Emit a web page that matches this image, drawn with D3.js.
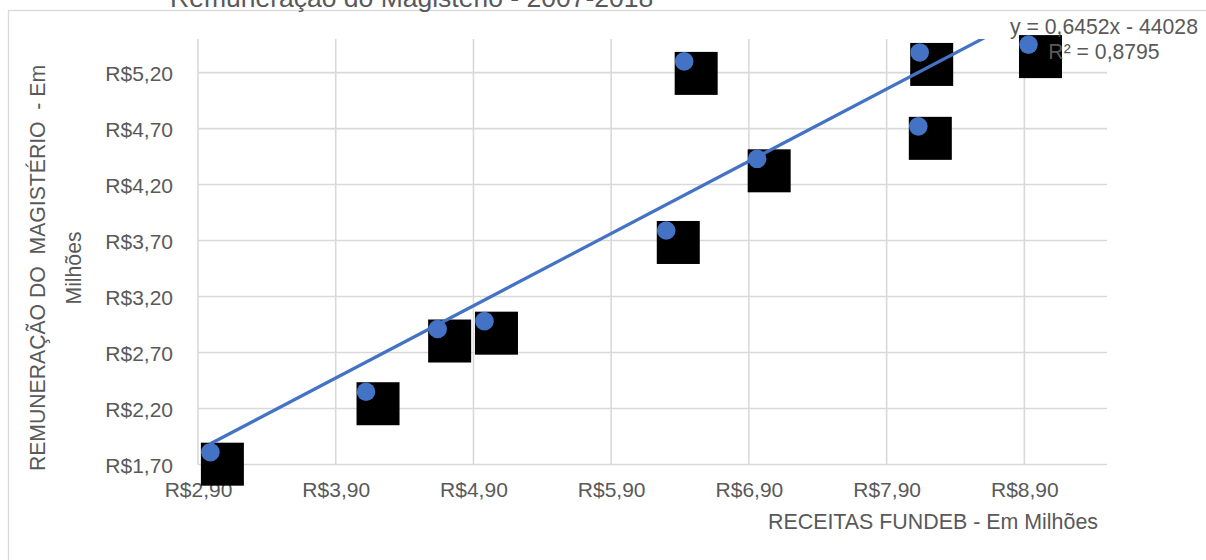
<!DOCTYPE html>
<html lang="pt-BR">
<head>
<meta charset="utf-8">
<script src="https://cdn.jsdelivr.net/npm/d3@7"></script>
<style>
  html, body { margin: 0; padding: 0; background: #ffffff; }
  svg { display: block; font-family: "Liberation Sans", Arial, sans-serif; }
  text { white-space: pre; }
</style>
</head>
<body>
<svg id="chart" width="1206" height="560"></svg>
<script>
// Receitas do FUNDEB x remuneração do magistério (R$ milhões)
const receitas     = [2.99, 4.12, 4.64, 4.98, 6.30, 6.43, 6.96, 8.13, 8.14, 8.93];
const remuneracao  = [1.81, 2.35, 2.91, 2.98, 3.79, 5.30, 4.43, 4.72, 5.38, 5.45];

// Linear trend (values in reais): y = 0,6452x - 44028
const trendSlope = 0.6452;
const trendIntercept = -44028;
const trendR2 = 0.8795;

const xTicks = [2.9, 3.9, 4.9, 5.9, 6.9, 7.9, 8.9];
const yTicks = [1.7, 2.2, 2.7, 3.2, 3.7, 4.2, 4.7, 5.2];
const xTickLabels = ["R$2,90", "R$3,90", "R$4,90", "R$5,90", "R$6,90", "R$7,90", "R$8,90"];
const yTickLabels = ["R$1,70", "R$2,20", "R$2,70", "R$3,20", "R$3,70", "R$4,20", "R$4,70", "R$5,20"];

const titleText = "Remuneração do Magistério - 2007-2018";
const xTitle = "RECEITAS FUNDEB - Em Milhões";
const yTitleLines = ["REMUNERAÇÃO DO  MAGISTÉRIO  - Em", "Milhões"];

const plot = { left: 198, right: 1107, top: 39, bottom: 464.5 };
const gray = "#d9d9d9";
const textGray = "#595959";
const blue = "#4472c4";

const svg = d3.select("#chart");

const x = d3.scaleLinear().domain([2.9, 9.5]).range([plot.left, plot.right]);
const y = d3.scaleLinear().domain([1.7, 5.5]).range([plot.bottom, plot.top]);

// chart frame
svg.append("rect")
  .attr("x", 8.5).attr("y", 10.5)
  .attr("width", 1400).attr("height", 800)
  .attr("fill", "none").attr("stroke", gray).attr("stroke-width", 1.3);

// title (sits above the frame)
svg.append("text")
  .attr("x", 170).attr("y", 7)
  .attr("font-size", 26.5).attr("fill", textGray)
  .text(titleText);

// gridlines
const grid = svg.append("g");
grid.selectAll("line.h").data(yTicks).join("line")
  .attr("class", "h")
  .attr("x1", plot.left).attr("x2", plot.right)
  .attr("y1", d => y(d)).attr("y2", d => y(d))
  .attr("stroke", gray).attr("stroke-width", 1.6);
grid.selectAll("line.v").data(xTicks).join("line")
  .attr("class", "v")
  .attr("x1", d => x(d)).attr("x2", d => x(d))
  .attr("y1", plot.top).attr("y2", plot.bottom)
  .attr("stroke", gray).attr("stroke-width", 1.6);

// axes (labels only; lines come from the grid)
const xAxis = d3.axisBottom(x).tickValues(xTicks)
  .tickFormat((d, i) => xTickLabels[i]).tickSize(0).tickPadding(0);
svg.append("g").attr("transform", `translate(0,${plot.bottom})`).call(xAxis)
  .call(g => g.select(".domain").remove())
  .call(g => g.selectAll("text")
    .attr("y", 32.5).attr("dy", null)
    .attr("font-size", 21).attr("fill", textGray)
    .attr("font-family", "Liberation Sans, Arial, sans-serif"));

const yAxis = d3.axisLeft(y).tickValues(yTicks)
  .tickFormat((d, i) => yTickLabels[i]).tickSize(0).tickPadding(25);
svg.append("g").attr("transform", `translate(${plot.left},0)`).call(yAxis)
  .call(g => g.select(".domain").remove())
  .call(g => g.selectAll("text")
    .attr("dy", "0.36em")
    .attr("font-size", 21).attr("fill", textGray)
    .attr("font-family", "Liberation Sans, Arial, sans-serif"));

// axis titles
svg.append("text")
  .attr("x", 1098).attr("y", 529)
  .attr("text-anchor", "end")
  .attr("font-size", 21.4).attr("fill", textGray)
  .text(xTitle);

const yTitle = svg.append("g").attr("transform", "translate(0,268) rotate(-90)");
yTitle.selectAll("text").data(yTitleLines).join("text")
  .attr("x", 0).attr("y", (d, i) => [45, 81][i])
  .attr("text-anchor", "middle")
  .attr("font-size", 21.2).attr("fill", textGray)
  .text(d => d);

// data
const points = receitas.map((v, i) => ({ x: v, y: remuneracao[i] }));

svg.append("clipPath").attr("id", "plotClip")
  .append("rect")
  .attr("x", plot.left).attr("y", plot.top)
  .attr("width", plot.right - plot.left).attr("height", plot.bottom - plot.top);

// black marker boxes
svg.append("g").selectAll("rect").data(points).join("rect")
  .attr("x", d => x(d.x) - 9.5)
  .attr("y", d => y(d.y) - 9.5)
  .attr("width", 43).attr("height", 43)
  .attr("fill", "#000000");

// trend line over the data range
const xMin = d3.min(receitas), xMax = d3.max(receitas);
const trend = x0 => (trendSlope * x0 * 1e6 + trendIntercept) / 1e6;
svg.append("line")
  .attr("clip-path", "url(#plotClip)")
  .attr("x1", x(xMin)).attr("y1", y(trend(xMin)))
  .attr("x2", x(xMax)).attr("y2", y(trend(xMax)))
  .attr("stroke", blue).attr("stroke-width", 3.2);

// points
svg.append("g").selectAll("circle").data(points).join("circle")
  .attr("cx", d => x(d.x)).attr("cy", d => y(d.y))
  .attr("r", 9.3)
  .attr("fill", blue);

// trend equation label
const fmt = v => String(v).replace(".", ",");
const eq = svg.append("g").attr("font-size", 21.2).attr("fill", textGray).attr("text-anchor", "middle");
eq.append("text").attr("x", 1104).attr("y", 34)
  .text(`y = ${fmt(trendSlope)}x - ${Math.abs(trendIntercept)}`);
eq.append("text").attr("x", 1104).attr("y", 59)
  .text(`R² = ${fmt(trendR2)}`);
</script>
</body>
</html>
